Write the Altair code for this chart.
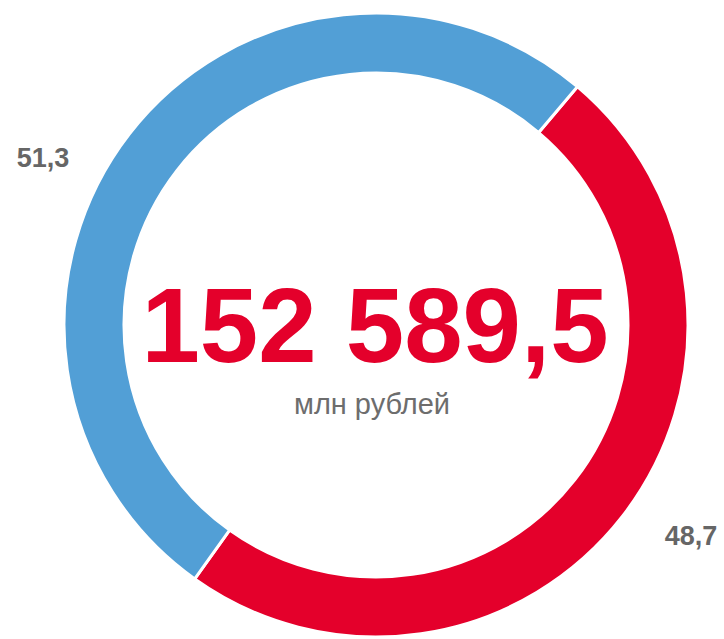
import altair as alt
import pandas as pd

categories = ["red", "blue"]
values = [48.7, 51.3]
labels = ["48,7", "51,3"]
colors = ["#E4002B", "#529FD6"]
order = [0, 1]
total_text = "152 589,5"
unit_text = "млн рублей"

df = pd.DataFrame({"cat": categories, "value": values, "label": labels, "order": order})

start = 40.2 * 3.141592653589793 / 180
two_pi = 2 * 3.141592653589793

cx, cy = 376, 325

donut = alt.Chart(df).mark_arc(
    innerRadius=252, outerRadius=312, stroke="white", strokeWidth=3
).encode(
    theta=alt.Theta("value:Q", stack=True, scale=alt.Scale(range=[start, start + two_pi])),
    color=alt.Color("cat:N", scale=alt.Scale(domain=categories, range=colors), legend=None),
    order=alt.Order("order:Q"),
    x=alt.value(cx),
    y=alt.value(cy),
)

lab_red = alt.Chart(df).transform_filter(alt.datum.cat == "red").mark_text(
    font="Liberation Sans", fontSize=27, fontWeight="bold", color="#666666",
    align="center", baseline="alphabetic"
).encode(text="label:N", x=alt.value(691), y=alt.value(545))

lab_blue = alt.Chart(df).transform_filter(alt.datum.cat == "blue").mark_text(
    font="Liberation Sans", fontSize=27, fontWeight="bold", color="#666666",
    align="center", baseline="alphabetic"
).encode(text="label:N", x=alt.value(43), y=alt.value(167))

center_df = pd.DataFrame({"t": [total_text], "u": [unit_text]})

big = alt.Chart(center_df).mark_text(
    font="Liberation Sans", fontSize=105, fontWeight="bold", color="#E4002B",
    align="center", baseline="alphabetic"
).encode(text="t:N", x=alt.value(375), y=alt.value(362))

unit = alt.Chart(center_df).mark_text(
    font="Liberation Sans", fontSize=29, color="#6D6D6D",
    align="center", baseline="alphabetic"
).encode(text="u:N", x=alt.value(372), y=alt.value(414))

chart = alt.layer(donut, lab_red, lab_blue, big, unit).properties(
    width=724, height=639, padding=0, autosize=alt.AutoSizeParams(type="none")
).configure_view(stroke=None)

chart.save("out.html", embed_options={"renderer": "svg", "actions": False})
